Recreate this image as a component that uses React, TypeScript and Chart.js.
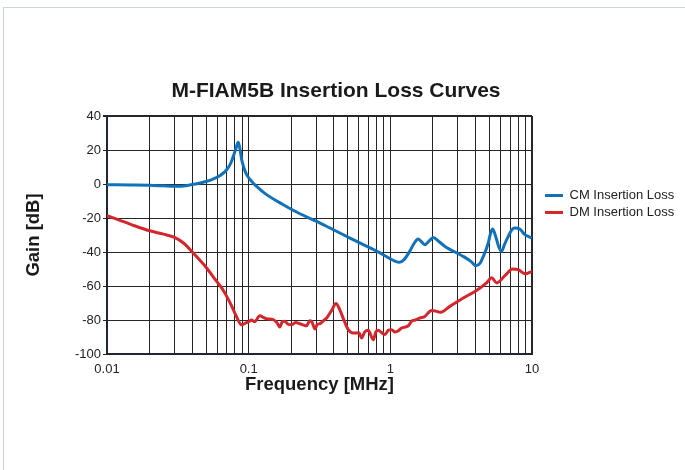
import { useEffect, useRef } from "react";
import { Chart, registerables } from "chart.js";

Chart.register(...registerables);

const chartTitle = "M-FIAM5B Insertion Loss Curves";
const xAxisTitle = "Frequency [MHz]";
const yAxisTitle = "Gain [dB]";
const cmLabel = "CM Insertion Loss";
const dmLabel = "DM Insertion Loss";

// CM insertion loss (frequency in MHz, gain in dB)
const cmFreq = [
  0.01, 0.015, 0.02, 0.025, 0.03, 0.036, 0.043, 0.05, 0.056, 0.063, 0.07, 0.075,
  0.0778, 0.081, 0.0845, 0.087, 0.0893, 0.093, 0.0968, 0.105, 0.1138, 0.13, 0.1755,
  0.23, 0.302, 0.375, 0.519, 0.644, 0.8, 1.0, 1.1, 1.16, 1.25, 1.37, 1.47, 1.57, 1.65,
  1.75, 1.88, 2.01, 2.2, 2.43, 3.27, 3.7, 4.02, 4.3, 4.53, 4.9, 5.1, 5.27, 5.5, 5.8,
  6.1, 6.4, 6.8, 7.2, 7.57, 8.2, 8.9, 9.4, 10,
];
const cmGain = [
  -0.4, -0.6, -0.8, -1.1, -1.3, -1.0, 0.2, 1.5, 2.9, 5.0, 8.4, 12.5,
  16.2, 20.5, 24.5, 20.0, 14.3, 9.0, 5.5, 1.5, -1.4, -5.5, -12.2,
  -17.5, -22.0, -25.9, -31.8, -35.7, -39.5, -44.0, -45.7, -46.1, -44.5, -39.6, -35.0, -32.4, -33.8,
  -35.7, -33.5, -31.4, -33.8, -36.7, -42.6, -45.5, -48.1, -46.5, -42.6, -35.0, -29.0, -26.5, -30.0, -36.5,
  -39.6, -35.5, -30.8, -27.0, -25.9, -26.5, -29.8, -30.8, -31.8,
];

// DM insertion loss (frequency in MHz, gain in dB)
const dmFreq = [
  0.01, 0.015, 0.02, 0.025, 0.03, 0.035, 0.0406, 0.05, 0.0594, 0.065, 0.07, 0.075,
  0.078, 0.082, 0.0891, 0.095, 0.1, 0.105, 0.11, 0.12, 0.127, 0.134, 0.149, 0.158,
  0.166, 0.173, 0.18, 0.19, 0.201, 0.215, 0.23, 0.245, 0.256, 0.27, 0.278, 0.294,
  0.305, 0.318, 0.336, 0.355, 0.385, 0.413, 0.44, 0.47, 0.505, 0.547, 0.6, 0.627,
  0.66, 0.699, 0.758, 0.79, 0.822, 0.87, 0.916, 0.97, 1.02, 1.08, 1.14, 1.2, 1.34,
  1.41, 1.5, 1.62, 1.75, 1.95, 2.1, 2.24, 2.63, 3.27, 4.06, 4.78, 5.19, 5.63, 6.44,
  7.3, 8.0, 8.91, 10,
];
const dmGain = [
  -18.6, -24.0, -27.5, -29.5, -31.4, -35.0, -40.6, -49.0, -57.3, -61.5, -66.1, -71.0,
  -74.0, -78.0, -82.8, -81.8, -81.0, -80.0, -81.0, -77.5, -78.5, -79.3, -79.8, -81.5,
  -84.1, -81.0, -80.8, -82.5, -82.8, -81.5, -82.2, -83.0, -83.4, -80.5, -80.8, -85.3,
  -82.5, -82.2, -80.5, -78.8, -74.4, -70.3, -74.0, -80.0, -85.7, -87.7, -87.5, -90.6,
  -87.0, -86.1, -91.6, -87.0, -86.1, -87.5, -88.6, -86.0, -85.7, -87.0, -86.3, -84.7, -83.4,
  -80.8, -80.0, -78.8, -77.9, -74.4, -74.8, -75.5, -72.0, -67.1, -62.6, -58.2, -55.1, -58.2, -53.9,
  -50.0, -50.4, -52.8, -51.4,
];

const xMin = 0.01;
const xMax = 10;
const xDecades = [0.01, 0.1, 1];
const xMinorMultipliers = [1, 2, 3, 4, 5, 6, 7, 8, 9];
const xTickLabels = ["0.01", "0.1", "1", "10"];
const yMin = -100;
const yMax = 40;
const yStep = 20;

const cmColor = "#1172BA";
const dmColor = "#D3272D";
const gridColor = "#262626";
const frameColor = "#1d2733";
const textColor = "#222222";

const xTickValues: number[] = [];
xDecades.forEach((d) => xMinorMultipliers.forEach((m) => xTickValues.push(+(m * d).toPrecision(6))));
xTickValues.push(xMax);

const legendPlacer = {
  id: "legendPlacer",
  afterLayout(chart: any) {
    const lg = chart.legend;
    if (!lg) return;
    const left = chart.chartArea.right + 9;
    const top = chart.chartArea.top + 69;
    lg.left = left;
    lg.top = top;
    lg.width = 150;
    lg.height = 60;
    lg.right = left + 150;
    lg.bottom = top + 60;
  },
};

export default function App() {
  const ref = useRef<HTMLCanvasElement>(null);

  useEffect(() => {
    Chart.defaults.font.family = "'Liberation Sans', Arial, sans-serif";
    const chart = new Chart(ref.current!, {
      type: "line",
      data: {
        datasets: [
          {
            label: cmLabel,
            data: cmFreq.map((f, i) => ({ x: f, y: cmGain[i] })),
            borderColor: cmColor,
            backgroundColor: cmColor,
            borderWidth: 3,
            pointRadius: 0,
            cubicInterpolationMode: "monotone",
            fill: false,
          },
          {
            label: dmLabel,
            data: dmFreq.map((f, i) => ({ x: f, y: dmGain[i] })),
            borderColor: dmColor,
            backgroundColor: dmColor,
            borderWidth: 3,
            pointRadius: 0,
            cubicInterpolationMode: "monotone",
            fill: false,
          },
        ],
      },
      options: {
        animation: false,
        responsive: true,
        maintainAspectRatio: false,
        layout: { padding: { left: 3, right: 16, top: 0, bottom: 0 } },
        plugins: {
          title: {
            display: true,
            text: chartTitle,
            color: "#1a1a1a",
            font: { size: 21, weight: "bold" },
            padding: { top: 78.7, bottom: 12.1 },
          },
          legend: {
            position: "chartArea",
            align: "start",
            labels: {
              usePointStyle: true,
              pointStyle: "line",
              pointStyleWidth: 18,
              boxHeight: 13,
              padding: 4,
              color: textColor,
              font: { size: 13 },
            },
          },
          tooltip: { enabled: false },
        },
        scales: {
          x: {
            type: "logarithmic",
            min: xMin,
            max: xMax,
            afterBuildTicks: (s: any) => {
              s.ticks = xTickValues.map((v) => ({ value: v }));
            },
            afterFit: (s: any) => {
              s.height = 116;
              s.paddingRight = 153;
            },
            ticks: {
              autoSkip: false,
              maxRotation: 0,
              minRotation: 0,
              padding: 8,
              color: textColor,
              font: { size: 13 },
              callback: (value: any) => {
                const v = Number(value);
                const idx = xTickLabels.findIndex((t) => Math.abs(Number(t) - v) < v * 1e-6);
                return idx >= 0 ? xTickLabels[idx] : "";
              },
            },
            grid: {
              color: gridColor,
              lineWidth: (ctx: any) => (ctx.tick && Math.abs(ctx.tick.value - xMax) < 1e-6 ? 2 : 1),
              drawTicks: false,
            },
            border: { display: true, color: frameColor, width: 2 },
            title: {
              display: true,
              text: xAxisTitle,
              color: "#1a1a1a",
              font: { size: 18.5, weight: "bold" },
              padding: { top: 0, bottom: 73.6 },
            },
          },
          y: {
            type: "linear",
            min: yMin,
            max: yMax,
            afterFit: (s: any) => {
              s.width = 104;
            },
            ticks: {
              stepSize: yStep,
              padding: 2,
              color: textColor,
              font: { size: 13 },
            },
            grid: {
              color: gridColor,
              lineWidth: (ctx: any) => (ctx.tick && ctx.tick.value === yMax ? 2 : 1),
              tickLength: 4,
              drawTicks: true,
            },
            border: { display: true, color: frameColor, width: 2 },
            title: {
              display: true,
              text: yAxisTitle,
              color: "#1a1a1a",
              font: { size: 18.5, weight: "bold" },
              padding: { top: 20, bottom: 0 },
            },
          },
        },
      },
      plugins: [legendPlacer],
    } as any);
    return () => chart.destroy();
  }, []);

  return (
    <div style={{ position: "fixed", left: 0, top: 0, width: 685, height: 470, background: "#ffffff" }}>
      <div
        style={{
          position: "absolute",
          left: 3,
          top: 7,
          right: 0,
          bottom: 0,
          borderLeft: "1px solid #c8d5de",
          borderTop: "1px solid #c8d5de",
        }}
      />
      <div style={{ position: "absolute", left: 0, top: 0, width: 685, height: 470 }}>
        <canvas ref={ref} />
      </div>
    </div>
  );
}
